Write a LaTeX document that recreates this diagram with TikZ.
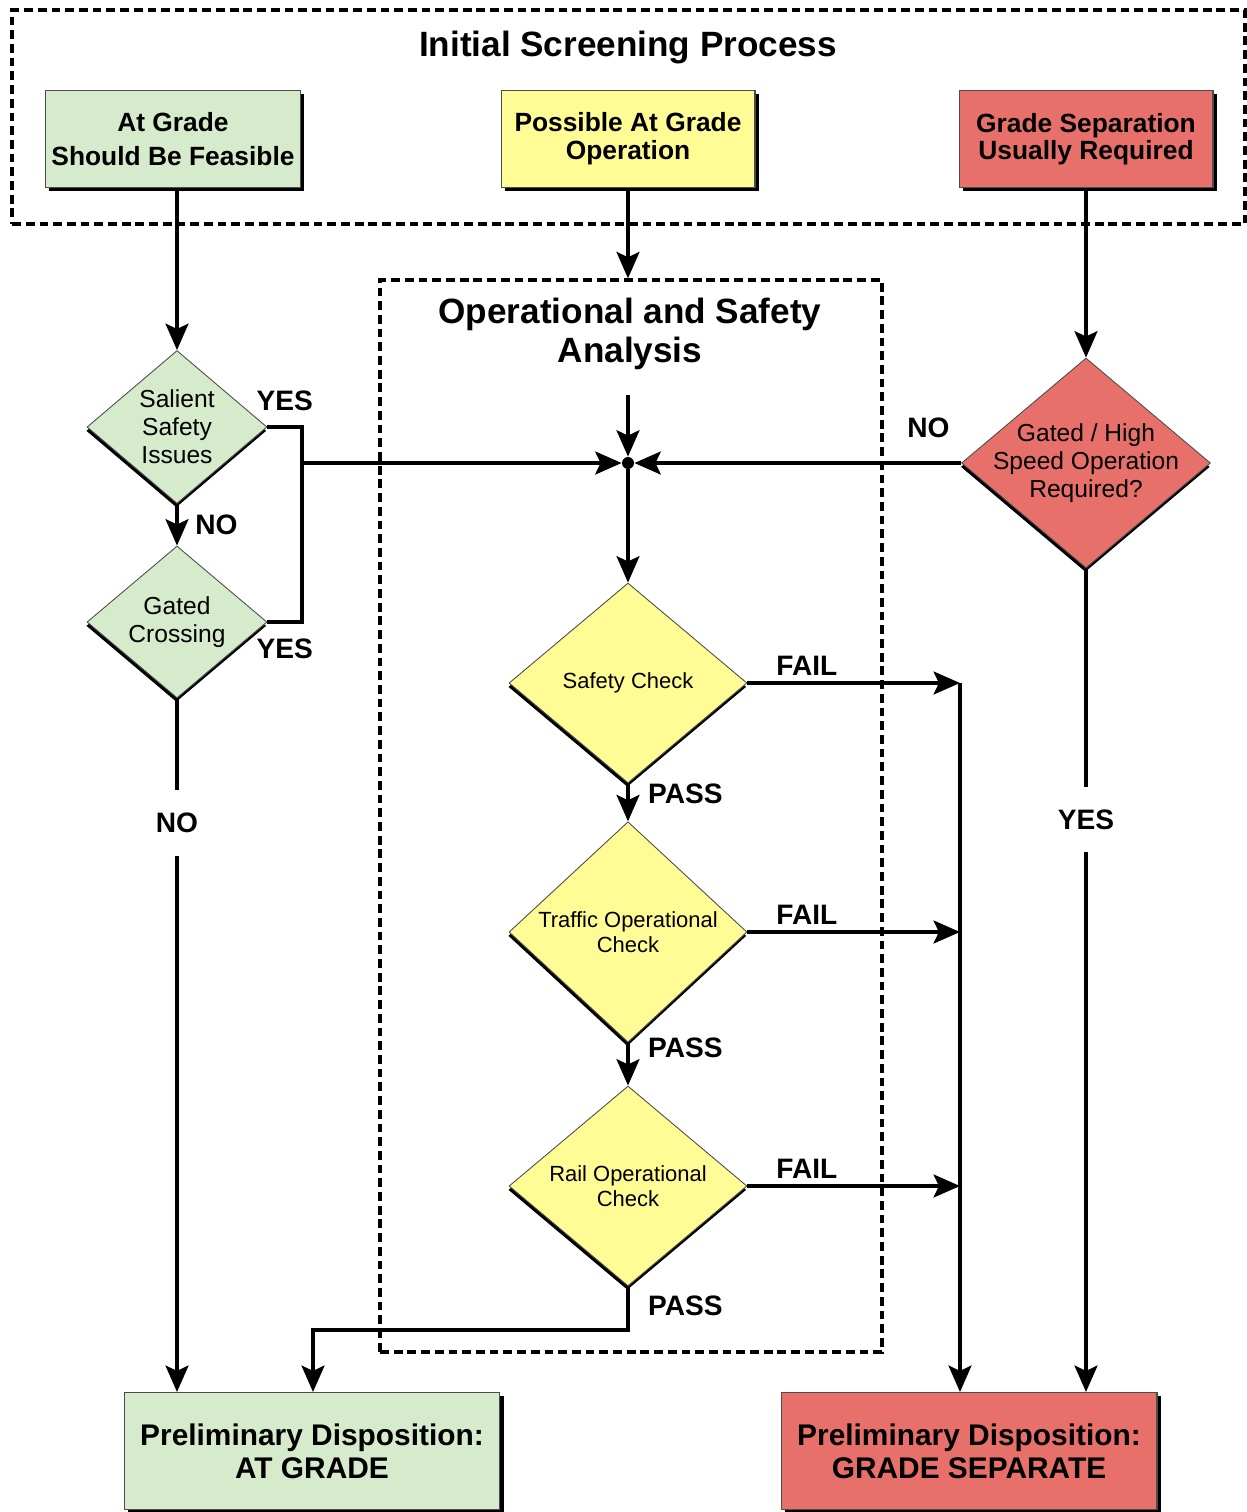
\documentclass[tikz,border=0pt]{standalone}
\usepackage{fontspec}
\setmainfont{Liberation Sans}
\usetikzlibrary{shapes.geometric,arrows.meta,shadows}
\definecolor{gradegreen}{RGB}{213,235,204}
\definecolor{opyellow}{RGB}{255,252,150}
\definecolor{sepred}{RGB}{232,112,106}
\begin{document}
\begin{tikzpicture}[x=0.02cm, y=-0.02cm,
  dashbox/.style={draw, line width=2pt, dash pattern=on 5pt off 2.8pt, inner sep=0},
  title/.style={font=\fontsize{20}{22}\selectfont\bfseries, align=center},
  box/.style={draw=black!70, line width=0.6pt, align=center, minimum width=5.08cm, minimum height=1.94cm,
    font=\fontsize{15}{15.5}\selectfont\bfseries,
    drop shadow={shadow xshift=2.2pt, shadow yshift=-2.2pt, opacity=1, fill=black}},
  endbox/.style={box, minimum width=7.52cm, minimum height=2.34cm, font=\fontsize{17}{19}\selectfont\bfseries},
  choice/.style={diamond, draw=black!70, line width=0.5pt, align=center, inner sep=0,
    font=\fontsize{14}{16}\selectfont,
    drop shadow={shadow xshift=-0.4pt, shadow yshift=-2.2pt, opacity=1, fill=black}},
  check/.style={choice, fill=opyellow, minimum width=4.76cm, minimum height=4cm,
    font=\fontsize{12.5}{14.2}\selectfont},
  dot/.style={circle, fill=black, inner sep=0, minimum size=0.24cm},
  lbl/.style={font=\fontsize{16}{18}\selectfont\bfseries},
  gap/.style={lbl, fill=white, inner xsep=2pt, inner ysep=13pt},
  wire/.style={line width=2.2pt},
  flow/.style={wire, -{Stealth[length=15pt, width=13pt, inset=3pt]}}]

\useasboundingbox (0,0) rectangle (1247,1512);

% screening stage
\node[dashbox, minimum width=24.66cm, minimum height=4.28cm] (screening) at (628.5,117) {};
\node[title] (screentitle) at (628,47) {Initial Screening Process};
\node[box, fill=gradegreen, font=\fontsize{15}{19}\selectfont\bfseries] (feasible) at (173,139) {At Grade\\Should Be Feasible};
\node[box, fill=opyellow, font=\fontsize{15}{16}\selectfont\bfseries] (possible) at (628,139) {Possible At Grade\\Operation};
\node[box, fill=sepred] (usually) at (1086,139) {Grade Separation\\Usually Required};

% analysis stage
\node[dashbox, minimum width=10.04cm, minimum height=21.44cm] (analysis) at (631,816) {};
\node[title] (analysistitle) at (630,334) {Operational and Safety\\Analysis};

\node[choice, fill=gradegreen, minimum width=3.6cm, minimum height=3.06cm] (salient) at (177,427) {Salient\\Safety\\Issues};
\node[choice, fill=gradegreen, minimum width=3.6cm, minimum height=3.04cm] (crossing) at (177,622) {Gated\\Crossing};
\node[choice, fill=sepred, shape aspect=1.19, inner sep=-5pt, minimum width=4.98cm, minimum height=4.2cm] (highspeed) at (1086,463) {Gated / High\\Speed Operation\\Required?};

\node[check] (safety) at (628,683) {Safety Check};
\node[check] (traffic) at (628,932) {Traffic Operational\\Check};
\node[check] (rail) at (628,1186) {Rail Operational\\Check};

\node[dot] (join) at (628,463) {};
\coordinate (feed) at (628,395);
\coordinate (yesbus) at (302,463);
\coordinate (failbus) at (960,683);
\coordinate (passbend) at (313,1330);

% dispositions
\node[endbox, fill=gradegreen] (atgrade) at (312,1451) {Preliminary Disposition:\\AT GRADE};
\node[endbox, fill=sepred] (separate) at (969,1451) {Preliminary Disposition:\\GRADE SEPARATE};

% connectors
\draw[flow] (salient |- feasible.south) -- (salient.north);
\draw[flow] (possible.south) -- (possible.south |- analysis.north);
\draw[flow] (usually.south) -- (highspeed.north);
\draw[flow] (feed) -- (join);

\draw[wire] (salient.east) -- node[lbl, above=5pt] (yesa) {YES} (yesbus |- salient.east)
  -- (yesbus |- crossing.east) -- node[lbl, below=5pt] (yesb) {YES} (crossing.east);
\draw[flow] (yesbus) -- (join);
\draw[flow] (highspeed.west) -- node[lbl, above=10pt, pos=.1] (noright) {NO} (join);
\draw[flow] (join) -- (safety.north);

\draw[flow] (salient.south) -- node[lbl, right=6pt] (noleft) {NO} (crossing.north);
\draw[flow] (crossing.south) -- node[gap, pos=.18] (nodown) {NO} (crossing.south |- atgrade.north);
\draw[flow] (highspeed.south) -- node[gap, pos=.305] (yesdown) {YES} (highspeed.south |- separate.north);

\draw[flow] (safety.east) -- node[lbl, above, pos=.28] (faila) {FAIL} (failbus);
\draw[flow] (traffic.east) -- node[lbl, above, pos=.28] (failb) {FAIL} (traffic.east -| failbus);
\draw[flow] (rail.east) -- node[lbl, above, pos=.28] (failc) {FAIL} (rail.east -| failbus);
\draw[flow] (failbus) -- (failbus |- separate.north);

\draw[flow] (safety.south) -- node[lbl, right=7pt, pos=.28] (passa) {PASS} (traffic.north);
\draw[flow] (traffic.south) -- node[lbl, right=7pt, pos=.12] (passb) {PASS} (rail.north);
\draw[flow] (rail.south) -- node[lbl, right=7pt, pos=.45] (passc) {PASS} (rail.south |- passbend)
  -- (passbend) -- (passbend |- atgrade.north);

\end{tikzpicture}
\end{document}
